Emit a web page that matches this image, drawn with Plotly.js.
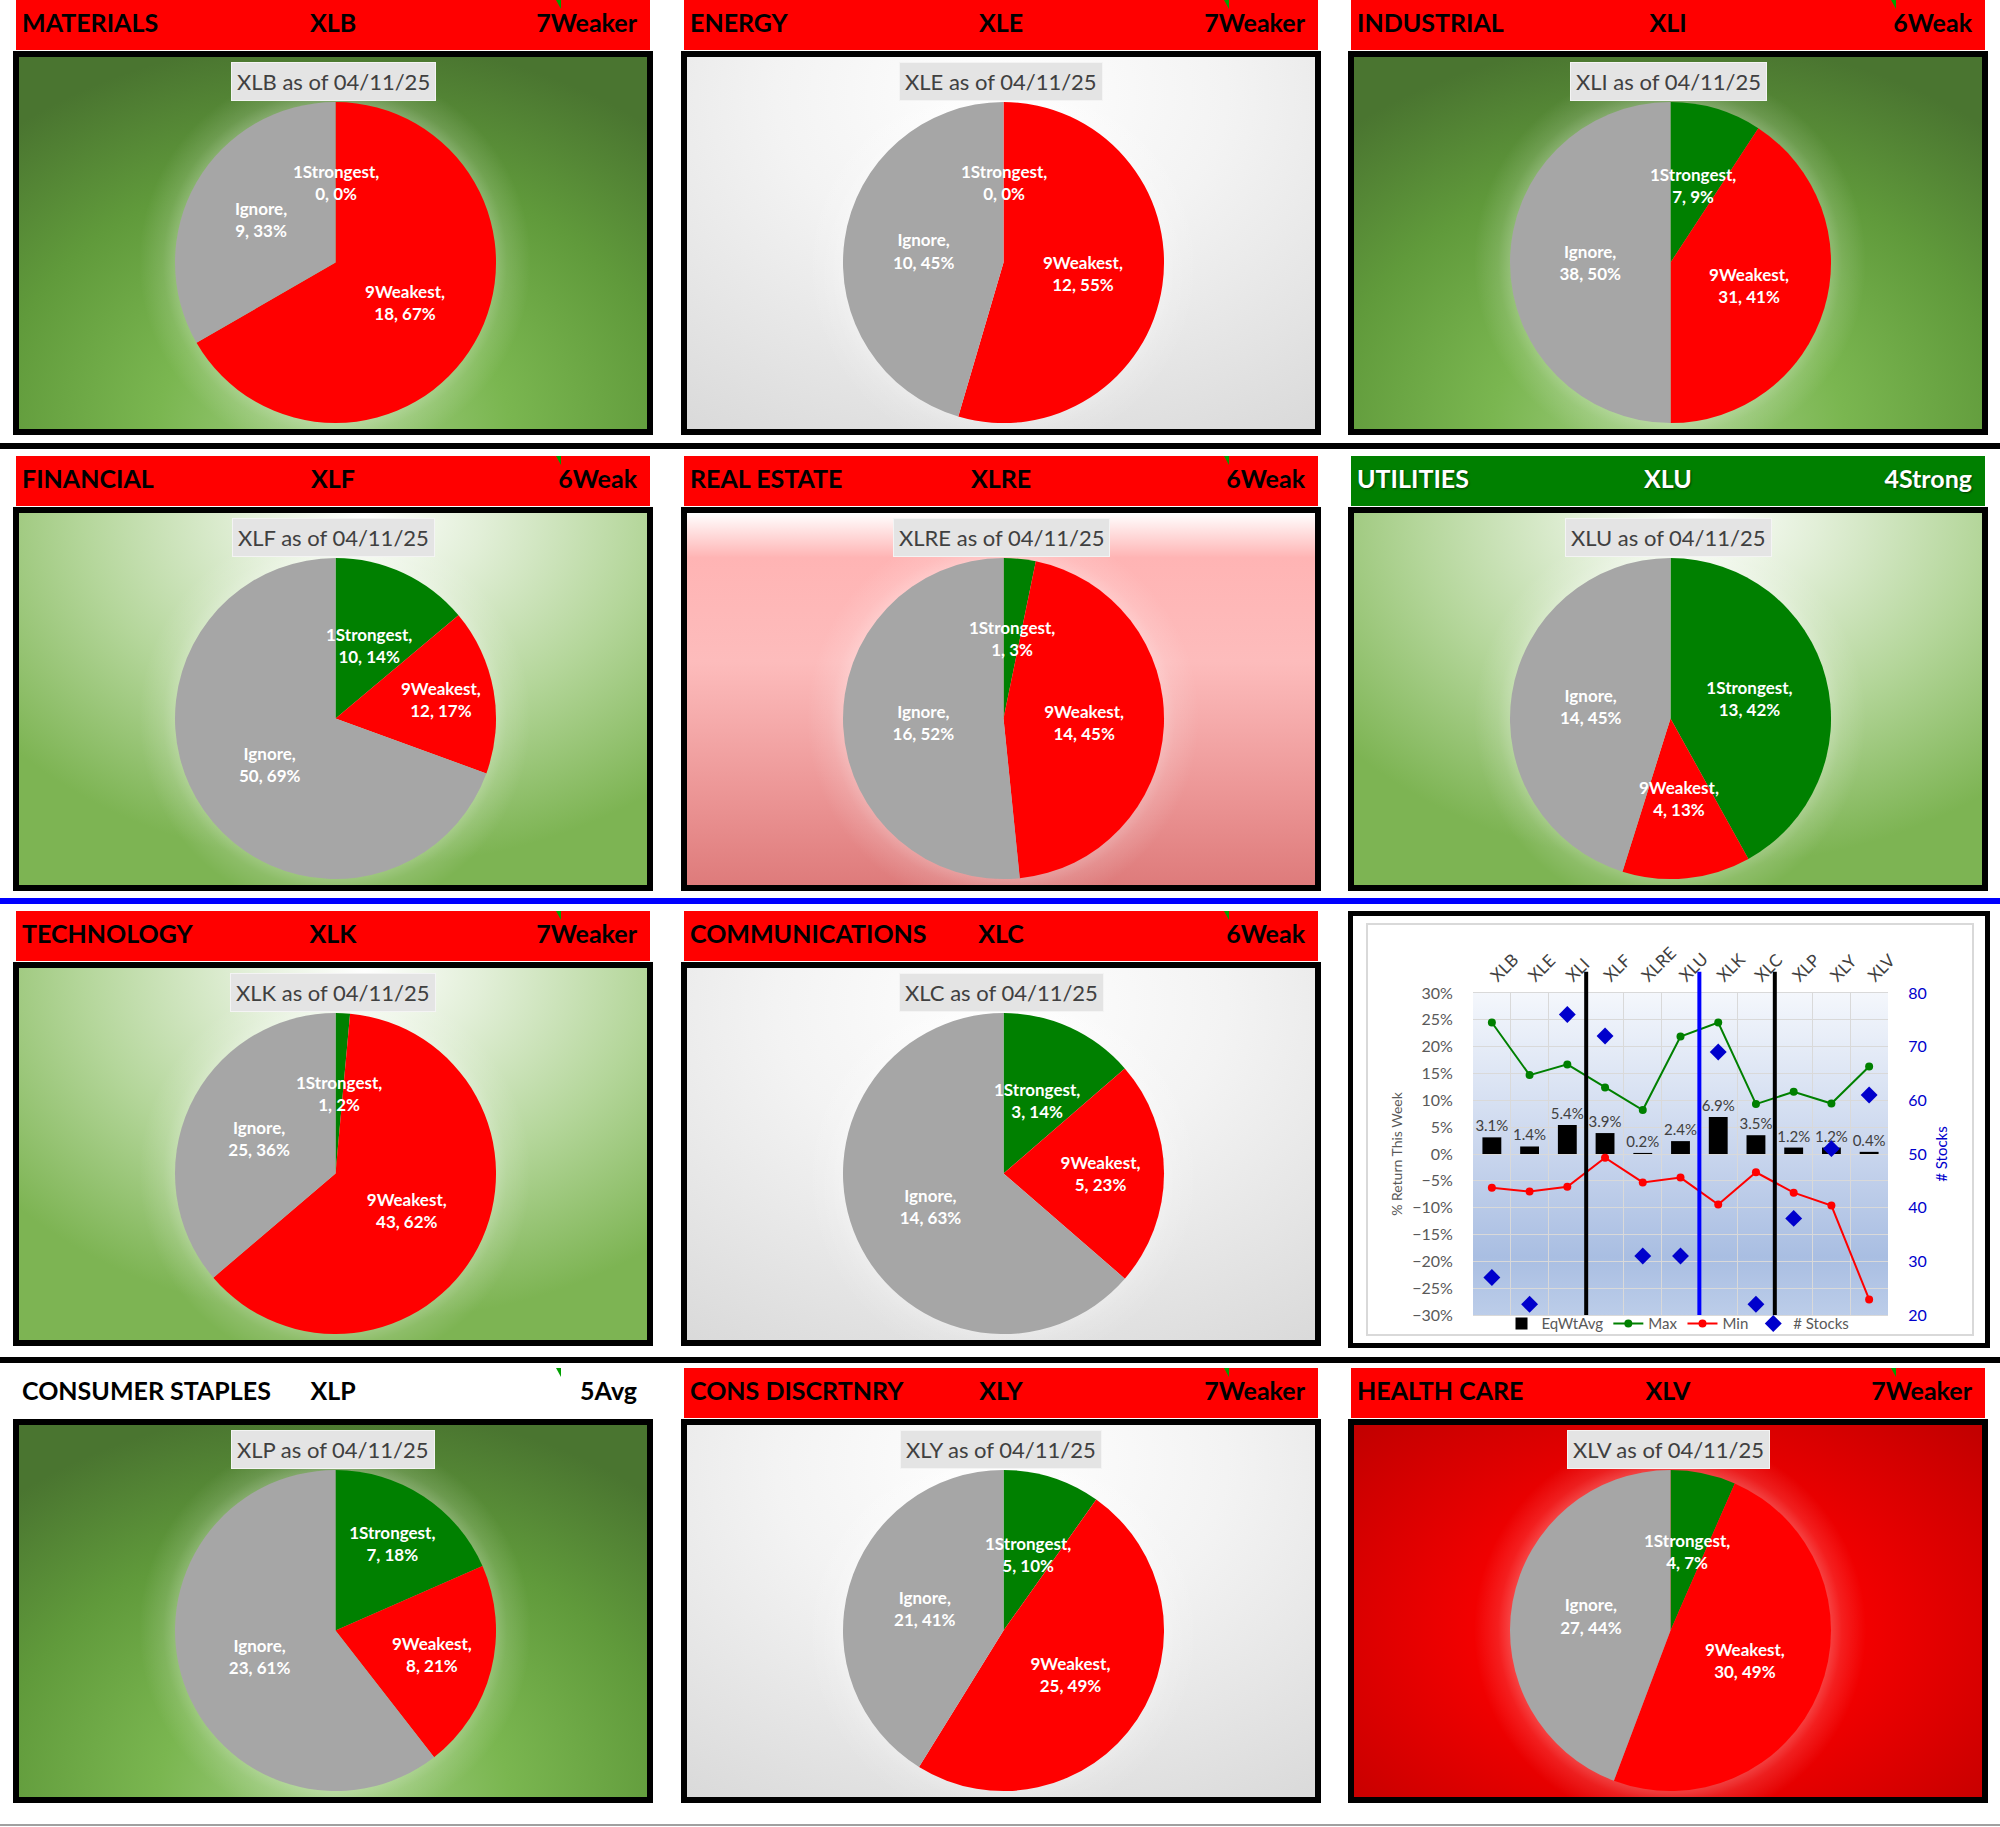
<!DOCTYPE html>
<html>
<head>
<meta charset="utf-8">
<script src="https://cdn.plot.ly/plotly-3.0.1.min.js"></script>
<style>
body { margin:0; width:2000px; height:1827px; background:#fff; position:relative; font-family:Lato, "Open Sans", sans-serif; overflow:hidden; }
.hdr { position:absolute; height:50px; font-weight:700; font-size:25px; line-height:44px; color:#000; }
.hdr span { position:absolute; white-space:nowrap; }
.hdr .l { left:6px; }
.hdr .c { left:0; right:0; text-align:center; }
.hdr .r { right:13px; }
.hdr .tri { position:absolute; top:0; width:0; height:0; border-top:9px solid #00a000; border-left:5px solid transparent; }
.box { position:absolute; width:640px; height:384px; border:6px solid #000; box-sizing:border-box; }
.pie { width:628px; height:372px; }
.sep { position:absolute; left:0; width:2000px; }
</style>
</head>
<body>
<div class="sep" style="top:443px;height:6px;background:#000"></div>
<div class="sep" style="top:898px;height:6px;background:#0000ff"></div>
<div class="sep" style="top:1357px;height:6px;background:#000"></div>
<div class="sep" style="top:1824px;height:2px;background:#a0a0a0"></div>
<div style="position:absolute;left:1348px;top:911px;width:642px;height:437px;border:5px solid #000;box-sizing:border-box;background:#fff"></div>
<div style="position:absolute;left:1366px;top:923px;width:608px;height:413px;border:2px solid #d9d9d9;box-sizing:border-box;background:#fff">
  <div id="combo" style="width:604px;height:409px"></div>
</div>
<script>
// sector panels, in grid order (the summary chart takes the 9th cell)
const tickers = ['XLB', 'XLE', 'XLI', 'XLF', 'XLRE', 'XLU', 'XLK', 'XLC', 'XLP', 'XLY', 'XLV'];
const sectors = ['MATERIALS', 'ENERGY', 'INDUSTRIAL', 'FINANCIAL', 'REAL ESTATE', 'UTILITIES',
                 'TECHNOLOGY', 'COMMUNICATIONS', 'CONSUMER STAPLES', 'CONS DISCRTNRY', 'HEALTH CARE'];
const ratings = ['7Weaker', '7Weaker', '6Weak', '6Weak', '6Weak', '4Strong', '7Weaker', '6Weak', '5Avg', '7Weaker', '7Weaker'];
const asOf = '04/11/25';

// pie slices
const sliceLabels = ['1Strongest', '9Weakest', 'Ignore'];
const strongest = [0, 0, 7, 10, 1, 13, 1, 3, 7, 5, 4];
const weakest = [18, 12, 31, 12, 14, 4, 43, 5, 8, 25, 30];
const ignore = [9, 10, 38, 50, 16, 14, 25, 14, 23, 21, 27];

// weekly return summary
const eqWtAvg = [3.1, 1.4, 5.4, 3.9, 0.2, 2.4, 6.9, 3.5, 1.2, 1.2, 0.4];
const maxRet = [24.5, 14.7, 16.7, 12.4, 8.2, 21.9, 24.5, 9.3, 11.6, 9.4, 16.3];
const minRet = [-6.3, -7.0, -6.1, -0.7, -5.3, -4.4, -9.4, -3.4, -7.2, -9.6, -27.1];
const stockCounts = [27, 22, 76, 72, 31, 31, 69, 22, 38, 51, 61];
const groupStarts = ['XLF', 'XLK', 'XLP'];

// look of each panel
const glow = 'radial-gradient(circle at 316px 205px, rgba(255,255,255,0.3) 156px, rgba(255,255,255,0.12) 172px, rgba(255,255,255,0) 196px)';
const bgs = {
  dkgreen: 'radial-gradient(ellipse 80% 105% at 50% 100%, #a3cf85 0%, #7ab650 35%, #609a3b 68%, #4a7530 100%)',
  ltgreen: 'radial-gradient(ellipse 75% 95% at 55% 0%, #ffffff 0%, #e2efd8 25%, #b4d69a 60%, #7db453 100%)',
  gray: 'radial-gradient(ellipse 90% 110% at 50% 10%, #ffffff 0%, #f3f3f3 40%, #d9d9d9 100%)',
  pink: 'linear-gradient(#ffffff 0%, #ffb4b4 12%, #fdbcbc 40%, #ec9696 75%, #de7b7b 100%)',
  red: 'radial-gradient(ellipse 70% 80% at 50% 55%, #ff0000 0%, #f20000 45%, #c00000 100%)'
};
const panelBg = ['dkgreen', 'gray', 'dkgreen', 'ltgreen', 'pink', 'ltgreen', 'ltgreen', 'gray', 'dkgreen', 'gray', 'red'];
const rowTop = [0, 456, 911, 1368];
const colLeft = [13, 681, 1348];
const sliceColors = ['#008000', '#ff0000', '#a6a6a6'];
const labelFont = {family: 'Lato', size: 17, color: '#fff', weight: 700};

function headerStyle(r) {
  if (r.startsWith('4')) return {bg: '#008000', fg: '#fff'};
  if (r.startsWith('5')) return {bg: 'transparent', fg: '#000'};
  return {bg: '#ff0000', fg: '#000'};
}

// whole-number percentages that add up to 100, like the spreadsheet labels
function roundedPercents(vals) {
  const total = vals.reduce((a, c) => a + c, 0);
  const raw = vals.map(v => 100 * v / total);
  const out = raw.map(Math.floor);
  let left = 100 - out.reduce((a, c) => a + c, 0);
  const order = raw.map((r, k) => k).sort((a, b) => (raw[b] - out[b]) - (raw[a] - out[a]) || a - b);
  for (let j = 0; j < left; j++) out[order[j]] += 1;
  return out;
}

tickers.forEach((tk, i) => {
  const slot = i < 8 ? i : i + 1;
  const top = rowTop[Math.floor(slot / 3)], left = colLeft[slot % 3];
  const hs = headerStyle(ratings[i]);
  const h = document.createElement('div');
  h.className = 'hdr';
  h.style.cssText = `left:${left + 3}px;top:${top}px;width:634px;background:${hs.bg};color:${hs.fg};` +
    (hs.fg === '#fff' ? 'text-shadow:1px 1px 2px rgba(0,0,0,.5);' : '');
  h.innerHTML = `<span class="l">${sectors[i]}</span><span class="c">${tk}</span><span class="r">${ratings[i]}</span>` +
    (hs.fg === '#fff' ? '' : '<div class="tri" style="left:540px"></div>');
  document.body.appendChild(h);

  const b = document.createElement('div');
  b.className = 'box';
  b.style.cssText = `left:${left}px;top:${top + 51}px;background:${glow}, ${bgs[panelBg[i]]};`;
  const p = document.createElement('div');
  p.className = 'pie';
  b.appendChild(p);
  document.body.appendChild(b);

  const vals = [strongest[i], weakest[i], ignore[i]];
  const total = vals.reduce((a, c) => a + c, 0);
  const pct = roundedPercents(vals);
  const dom = {x: [0.248, 0.760], y: [0.016, 0.879]};
  const cx = 0.504 * 628, cy = (1 - 0.4475) * 372, R = 160.5;

  const ann = [{
    text: `${tk} as of ${asOf}`, xref: 'paper', yref: 'paper', x: 0.5, y: 0.935,
    xanchor: 'center', yanchor: 'middle', showarrow: false,
    font: {family: 'Lato', size: 22, color: '#404040'},
    bgcolor: '#e4e4e4', bordercolor: '#f4f4f4', borderwidth: 1, borderpad: 5
  }];
  // thin slices: the label sits halfway out along the slice's middle
  const tmpl = [];
  let cum = 0;
  vals.forEach((v, k) => {
    const txt = `${sliceLabels[k]},<br>${v}, ${pct[k]}%`;
    if (v / total < 0.15) {
      const a = 2 * Math.PI * (cum + v / 2) / total;
      ann.push({
        text: txt, xref: 'paper', yref: 'paper',
        x: (cx + 0.5 * R * Math.sin(a)) / 628, y: 1 - (cy - 0.5 * R * Math.cos(a)) / 372,
        xanchor: 'center', yanchor: 'middle', showarrow: false, align: 'center', font: labelFont
      });
      tmpl.push('');
    } else {
      tmpl.push(txt);
    }
    cum += v;
  });

  Plotly.newPlot(p, [{
    type: 'pie',
    labels: sliceLabels,
    values: vals,
    sort: false,
    direction: 'clockwise',
    rotation: 0,
    domain: dom,
    marker: {colors: sliceColors, line: {width: 0}},
    texttemplate: tmpl,
    textposition: 'inside',
    insidetextorientation: 'horizontal',
    textfont: labelFont,
    hoverinfo: 'none'
  }], {
    width: 628, height: 372,
    margin: {l: 0, r: 0, t: 0, b: 0},
    paper_bgcolor: 'rgba(0,0,0,0)',
    plot_bgcolor: 'rgba(0,0,0,0)',
    showlegend: false,
    uniformtext: {mode: 'show', minsize: 17},
    annotations: ann
  }, {displayModeBar: false, staticPlot: true});
});

// summary chart
const gradSvg = '<svg xmlns="http://www.w3.org/2000/svg" width="100" height="100" preserveAspectRatio="none">' +
  '<defs><linearGradient id="g" x1="0" y1="0" x2="0" y2="1">' +
  '<stop offset="0" stop-color="#f4f7fc"/><stop offset="0.5" stop-color="#c8d5ed"/>' +
  '<stop offset="0.82" stop-color="#a9bee2"/><stop offset="1" stop-color="#bccde9"/>' +
  '</linearGradient></defs><rect width="100" height="100" fill="url(#g)"/></svg>';

const seps = groupStarts.map((t, k) => ({
  type: 'line', xref: 'x', yref: 'paper',
  x0: tickers.indexOf(t) - 0.5, x1: tickers.indexOf(t) - 0.5, y0: 0, y1: 1.066,
  line: {color: k === 1 ? '#0000ff' : '#000', width: 4}
}));

const gray = '#595959';
Plotly.newPlot('combo', [
  {
    type: 'bar', name: 'EqWtAvg', x: tickers, y: eqWtAvg,
    marker: {color: '#000'}, width: 0.5,
    texttemplate: '%{y:.1f}%', textposition: 'outside', cliponaxis: false, constraintext: 'none',
    textfont: {family: 'Lato', size: 15, color: '#404040'}
  },
  {
    type: 'scatter', mode: 'lines+markers', name: 'Max', x: tickers, y: maxRet,
    line: {color: '#008000', width: 2}, marker: {color: '#008000', size: 8}
  },
  {
    type: 'scatter', mode: 'lines+markers', name: 'Min', x: tickers, y: minRet,
    line: {color: '#ff0000', width: 2}, marker: {color: '#ff0000', size: 8}
  },
  {
    type: 'scatter', mode: 'markers', name: '# Stocks', x: tickers, y: stockCounts, yaxis: 'y2',
    marker: {color: '#0000cc', size: 13, symbol: 'diamond'}
  }
], {
  width: 604, height: 409,
  margin: {l: 105, r: 84, t: 68, b: 19, autoexpand: false},
  paper_bgcolor: '#fff',
  plot_bgcolor: 'rgba(0,0,0,0)',
  font: {family: 'Lato', color: gray, size: 15},
  xaxis: {
    type: 'category', side: 'top', tickangle: -45, tickson: 'boundaries',
    showgrid: true, gridcolor: '#d9d9d9', gridwidth: 1,
    ticks: 'outside', ticklen: 6, tickcolor: 'rgba(0,0,0,0)',
    tickfont: {size: 17, color: '#404040'},
    showline: true, linecolor: '#d9d9d9', mirror: true, zeroline: false,
    range: [-0.5, tickers.length - 0.5]
  },
  yaxis: {
    range: [-30, 30], dtick: 5, ticksuffix: '%',
    showgrid: true, gridcolor: '#d9d9d9', zeroline: false,
    ticks: 'outside', ticklen: 16, tickcolor: 'rgba(0,0,0,0)',
    tickfont: {size: 16, color: gray},
    title: {text: '% Return This Week', font: {size: 14, color: gray}, standoff: 6}
  },
  yaxis2: {
    overlaying: 'y', side: 'right', range: [20, 80], dtick: 10,
    showgrid: false, zeroline: false,
    ticks: 'outside', ticklen: 16, tickcolor: 'rgba(0,0,0,0)',
    tickfont: {size: 16, color: '#0000cc'},
    title: {text: '# Stocks', font: {size: 15, color: '#0000cc'}, standoff: 10}
  },
  legend: {
    orientation: 'h', x: 0.494, xanchor: 'center',
    yref: 'container', y: 0.025, yanchor: 'middle',
    font: {size: 15, color: gray}, bgcolor: 'rgba(0,0,0,0)', itemwidth: 30, tracegroupgap: 0
  },
  bargap: 0.5,
  images: [{
    source: 'data:image/svg+xml;charset=utf-8,' + encodeURIComponent(gradSvg),
    xref: 'paper', yref: 'paper', x: 0, y: 1, sizex: 1, sizey: 1,
    xanchor: 'left', yanchor: 'top', sizing: 'stretch', layer: 'below'
  }],
  shapes: seps
}, {displayModeBar: false, staticPlot: true});
</script>
</body>
</html>
